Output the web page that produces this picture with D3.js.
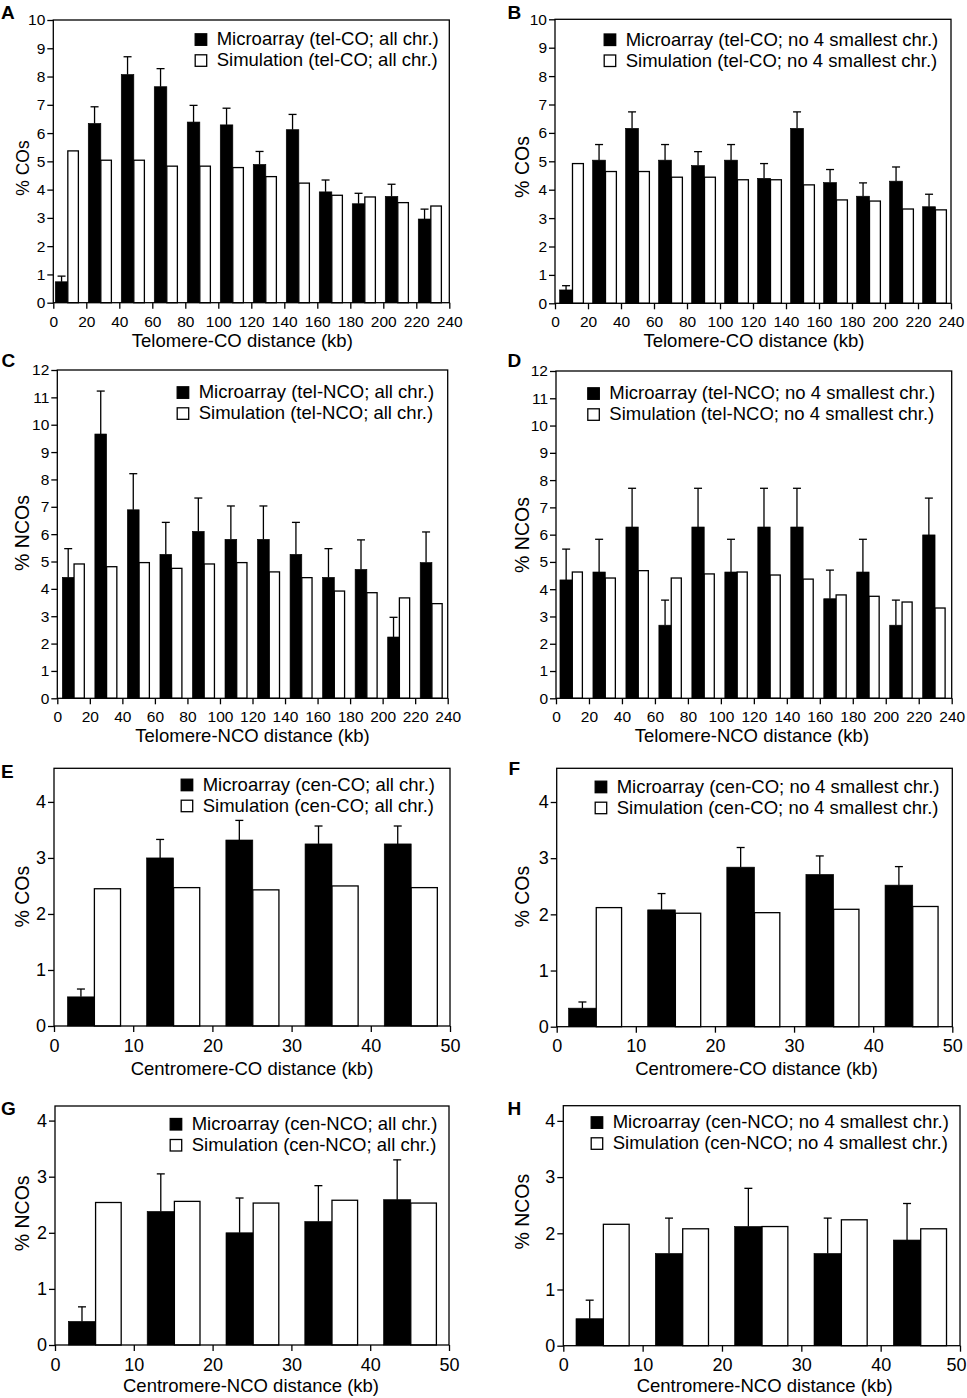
<!DOCTYPE html>
<html><head><meta charset="utf-8">
<script src="https://cdn.jsdelivr.net/npm/d3@7"></script>
<style>
body{margin:0;background:#fff}
svg{display:block}
text{font-family:"Liberation Sans",Arial,Helvetica,sans-serif;fill:#000}
</style>
</head><body>
<svg id="chart" width="967" height="1398"></svg>
<script>
// ---------- data ----------
const telBins  = [0,20,40,60,80,100,120,140,160,180,200,220];
const telTicks = [0,20,40,60,80,100,120,140,160,180,200,220,240];
const cenBins  = [0,10,20,30,40];
const cenTicks = [0,10,20,30,40,50];
const yTicks10 = [0,1,2,3,4,5,6,7,8,9,10];
const yTicks12 = [0,1,2,3,4,5,6,7,8,9,10,11,12];
const yTicks4  = [0,1,2,3,4];

const A_micro = [0.74,6.34,8.07,7.64,6.39,6.29,4.89,6.12,3.92,3.50,3.76,2.96];
const A_err   = [0.20,0.59,0.63,0.64,0.59,0.59,0.46,0.54,0.42,0.37,0.43,0.35];
const A_sim   = [5.37,5.04,5.04,4.83,4.83,4.78,4.46,4.23,3.80,3.74,3.54,3.42];

const B_micro = [0.47,5.04,6.16,5.04,4.85,5.04,4.40,6.16,4.25,3.77,4.30,3.40];
const B_err   = [0.15,0.55,0.58,0.55,0.49,0.55,0.52,0.58,0.46,0.47,0.50,0.44];
const B_sim   = [4.92,4.64,4.64,4.44,4.44,4.35,4.35,4.17,3.64,3.60,3.32,3.29];

const C_micro = [4.42,9.66,6.89,5.26,6.10,5.81,5.81,5.26,4.42,4.71,2.24,4.96];
const C_err   = [1.05,1.57,1.32,1.17,1.22,1.22,1.22,1.17,1.05,1.08,0.72,1.12];
const C_sim   = [4.91,4.81,4.96,4.75,4.91,4.96,4.62,4.41,3.92,3.86,3.67,3.46];

const D_micro = [4.34,4.63,6.28,2.68,6.28,4.63,6.28,6.28,3.65,4.63,2.68,5.99];
const D_err   = [1.13,1.20,1.42,0.92,1.42,1.20,1.42,1.42,1.05,1.20,0.92,1.35];
const D_sim   = [4.63,4.41,4.68,4.41,4.56,4.63,4.52,4.37,3.79,3.74,3.53,3.31];

const E_micro = [0.52,3.00,3.32,3.25,3.25];
const E_err   = [0.14,0.33,0.35,0.32,0.32];
const E_sim   = [2.45,2.47,2.43,2.50,2.47];

const F_micro = [0.33,2.08,2.84,2.71,2.52];
const F_err   = [0.11,0.29,0.35,0.33,0.33];
const F_sim   = [2.12,2.02,2.03,2.09,2.14];

const G_micro = [0.42,2.38,2.00,2.20,2.59];
const G_err   = [0.26,0.67,0.62,0.64,0.71];
const G_sim   = [2.54,2.56,2.53,2.58,2.53];

const H_micro = [0.48,1.64,2.12,1.64,1.88];
const H_err   = [0.33,0.63,0.68,0.63,0.65];
const H_sim   = [2.16,2.08,2.12,2.24,2.08];

// ---------- panels ----------
const panels = [
 {id:"A", bins:telBins, xTicks:telTicks, xMax:240, yMax:10, yTicks:yTicks10, micro:A_micro, err:A_err, sim:A_sim,
  leg:["Microarray (tel-CO; all chr.)","Simulation (tel-CO; all chr.)"], ylabel:"% COs", xlabel:"Telomere-CO distance (kb)",
  box:[53.3,449.3,20,302.7], bOff:[1.2,8.8], wOff:[8.8,15.2], legX:216.7, legY:45.3, letter:[1,19.3],
  yl:[23.3,168,17.5], xlDy:44, xlDx:-9, tf:15.5, lastDx:0},
 {id:"B", bins:telBins, xTicks:telTicks, xMax:240, yMax:10, yTicks:yTicks10, micro:B_micro, err:B_err, sim:B_sim,
  leg:["Microarray (tel-CO; no 4 smallest chr.)","Simulation (tel-CO; no 4 smallest chr.)"], ylabel:"% COs", xlabel:"Telomere-CO distance (kb)",
  box:[555,951,19.3,303.3], bOff:[2.8,10.6], wOff:[10.6,17.2], legX:625.7, legY:45.5, letter:[507.5,19.3],
  yl:[522.5,167,19.5], xlDy:43.4, xlDx:1, tf:15.5, lastDx:0},
 {id:"C", bins:telBins, xTicks:telTicks, xMax:240, yMax:12, yTicks:yTicks12, micro:C_micro, err:C_err, sim:C_sim,
  leg:["Microarray (tel-NCO; all chr.)","Simulation (tel-NCO; all chr.)"], ylabel:"% NCOs", xlabel:"Telomere-NCO distance (kb)",
  box:[57.3,447.7,370,698.3], bOff:[3.1,10.3], wOff:[10.3,16.6], legX:198.7, legY:398.3, letter:[1.5,367],
  yl:[22.5,533,19.5], xlDy:43.4, xlDx:0, tf:15.5, lastDx:0},
 {id:"D", bins:telBins, xTicks:telTicks, xMax:240, yMax:12, yTicks:yTicks12, micro:D_micro, err:D_err, sim:D_sim,
  leg:["Microarray (tel-NCO; no 4 smallest chr.)","Simulation (tel-NCO; no 4 smallest chr.)"], ylabel:"% NCOs", xlabel:"Telomere-NCO distance (kb)",
  box:[556,951.7,371,698.3], bOff:[2.4,9.9], wOff:[9.9,16], legX:609.3, legY:399.3, letter:[507.5,367],
  yl:[522.5,535,19.5], xlDy:43.4, xlDx:-2, tf:15.5, lastDx:0},
 {id:"E", bins:cenBins, xTicks:cenTicks, xMax:50, yMax:4.6, yTicks:yTicks4, micro:E_micro, err:E_err, sim:E_sim,
  leg:["Microarray (cen-CO; all chr.)","Simulation (cen-CO; all chr.)"], ylabel:"% COs", xlabel:"Centromere-CO distance (kb)",
  box:[54,450,768.3,1026], bOff:[1.7,5.1], wOff:[5.1,8.4], legX:202.7, legY:790.7, letter:[1,778.3],
  yl:[22.5,896.7,19.5], xlDy:49, xlDx:0, tf:18, lastDx:0},
 {id:"F", bins:cenBins, xTicks:cenTicks, xMax:50, yMax:4.6, yTicks:yTicks4, micro:F_micro, err:F_err, sim:F_sim,
  leg:["Microarray (cen-CO; no 4 smallest chr.)","Simulation (cen-CO; no 4 smallest chr.)"], ylabel:"% COs", xlabel:"Centromere-CO distance (kb)",
  box:[556.7,952.3,768.3,1026.7], bOff:[1.5,5.0], wOff:[5.0,8.2], legX:616.7, legY:792.7, letter:[508.5,775],
  yl:[522.5,896.7,19.5], xlDy:48.3, xlDx:2, tf:18, lastDx:0},
 {id:"G", bins:cenBins, xTicks:cenTicks, xMax:50, yMax:4.26, yTicks:yTicks4, micro:G_micro, err:G_err, sim:G_sim,
  leg:["Microarray (cen-NCO; all chr.)","Simulation (cen-NCO; all chr.)"], ylabel:"% NCOs", xlabel:"Centromere-NCO distance (kb)",
  box:[55,449,1106,1345], bOff:[1.7,5.15], wOff:[5.15,8.4], legX:191.7, legY:1130, letter:[1,1115],
  yl:[22.5,1213.3,19.5], xlDy:46.7, xlDx:-1, tf:18, lastDx:0},
 {id:"H", bins:cenBins, xTicks:cenTicks, xMax:50, yMax:4.27, yTicks:yTicks4, micro:H_micro, err:H_err, sim:H_sim,
  leg:["Microarray (cen-NCO; no 4 smallest chr.)","Simulation (cen-NCO; no 4 smallest chr.)"], ylabel:"% NCOs", xlabel:"Centromere-NCO distance (kb)",
  box:[563.3,960,1105.7,1345.7], bOff:[1.6,5.05], wOff:[5.05,8.3], legX:612.7, legY:1128.3, letter:[507.5,1115],
  yl:[522.5,1211.7,19.5], xlDy:46, xlDx:3, tf:18, lastDx:-4}
];

const svg = d3.select("#chart");
const SW = 1.3;

panels.forEach(p => {
  const [x0,x1,yT,yB] = p.box;
  const x = d3.scaleLinear().domain([0,p.xMax]).range([x0,x1]);
  const y = d3.scaleLinear().domain([0,p.yMax]).range([yB,yT]);
  const g = svg.append("g");

  // bars
  const rows = p.bins.map((b,i)=>({b, m:p.micro[i], e:p.err[i], s:p.sim[i]}));
  g.selectAll(".bk").data(rows).join("rect")
    .attr("x", d=>x(d.b+p.bOff[0])).attr("width", d=>x(d.b+p.bOff[1])-x(d.b+p.bOff[0]))
    .attr("y", d=>y(d.m)).attr("height", d=>y(0)-y(d.m))
    .attr("fill","#000").attr("stroke","#000").attr("stroke-width",SW*0.5);
  g.selectAll(".wh").data(rows).join("rect")
    .attr("x", d=>x(d.b+p.wOff[0])).attr("width", d=>x(d.b+p.wOff[1])-x(d.b+p.wOff[0]))
    .attr("y", d=>y(d.s)).attr("height", d=>y(0)-y(d.s))
    .attr("fill","#fff").attr("stroke","#000").attr("stroke-width",SW);
  // error bars
  const cx = d => (x(d.b+p.bOff[0])+x(d.b+p.bOff[1]))/2;
  g.selectAll(".ev").data(rows).join("line")
    .attr("x1",cx).attr("x2",cx).attr("y1",d=>y(d.m)).attr("y2",d=>y(d.m+d.e))
    .attr("stroke","#000").attr("stroke-width",SW);
  g.selectAll(".ec").data(rows).join("line")
    .attr("x1",d=>cx(d)-4).attr("x2",d=>cx(d)+4).attr("y1",d=>y(d.m+d.e)).attr("y2",d=>y(d.m+d.e))
    .attr("stroke","#000").attr("stroke-width",SW);

  // frame
  g.append("rect").attr("x",x0).attr("y",yT).attr("width",x1-x0).attr("height",yB-yT)
    .attr("fill","none").attr("stroke","#000").attr("stroke-width",SW);

  // axes
  const ax = g.append("g").attr("transform",`translate(0,${yB})`)
    .call(d3.axisBottom(x).tickValues(p.xTicks).tickSize(6).tickPadding(7).tickFormat(d3.format("d")));
  const ay = g.append("g").attr("transform",`translate(${x0},0)`)
    .call(d3.axisLeft(y).tickValues(p.yTicks).tickSize(6).tickPadding(2).tickFormat(d3.format("d")));
  [ax,ay].forEach(a=>{
    a.select(".domain").remove();
    a.selectAll(".tick line").attr("stroke","#000").attr("stroke-width",SW);
    a.selectAll(".tick text").attr("font-size",p.tf).attr("font-family","Liberation Sans, Arial, sans-serif").attr("fill","#000");
  });
  ax.selectAll(".tick text").filter(d=>d===p.xMax).attr("dx",p.lastDx);

  // axis labels
  g.append("text").attr("x",(x0+x1)/2 + p.xlDx).attr("y",yB+p.xlDy).attr("text-anchor","middle")
    .attr("font-size",18.5).text(p.xlabel);
  g.append("text").attr("transform",`translate(${p.yl[0]},${p.yl[1]}) rotate(-90)`)
    .attr("text-anchor","middle").attr("dy","0.35em").attr("font-size",p.yl[2]).text(p.ylabel);

  // legend
  [0,1].forEach(k=>{
    const by = p.legY + k*21;
    g.append("rect").attr("x",p.legX-21.5).attr("y",by-11.5).attr("width",11.5).attr("height",11.5)
      .attr("fill",k===0?"#000":"#fff").attr("stroke","#000").attr("stroke-width",SW);
    g.append("text").attr("x",p.legX).attr("y",by).attr("font-size",18.5).text(p.leg[k]);
  });

  // panel letter
  g.append("text").attr("x",p.letter[0]).attr("y",p.letter[1]).attr("font-size",19)
    .attr("font-weight","bold").text(p.id);
});
</script>
</body></html>
